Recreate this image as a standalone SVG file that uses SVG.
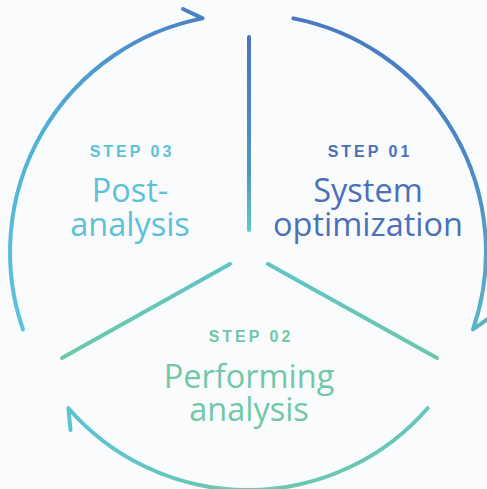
<svg xmlns="http://www.w3.org/2000/svg" width="487" height="489" viewBox="0 0 487 489">
  <defs>
    <linearGradient id="gA" gradientUnits="userSpaceOnUse" x1="293" y1="18" x2="473" y2="330">
      <stop offset="0" stop-color="#4a77c1"/>
      <stop offset="0.6" stop-color="#4a88c6"/>
      <stop offset="1" stop-color="#58b6c6"/>
    </linearGradient>
    <linearGradient id="gB" gradientUnits="userSpaceOnUse" x1="428" y1="408" x2="68" y2="408">
      <stop offset="0" stop-color="#68c6b8"/>
      <stop offset="0.5" stop-color="#6dc8b0"/>
      <stop offset="1" stop-color="#5cc2d2"/>
    </linearGradient>
    <linearGradient id="gC" gradientUnits="userSpaceOnUse" x1="23" y1="330" x2="203" y2="18">
      <stop offset="0" stop-color="#5cc4d8"/>
      <stop offset="0.5" stop-color="#52b0d6"/>
      <stop offset="1" stop-color="#4a80c6"/>
    </linearGradient>
    <linearGradient id="gV" gradientUnits="userSpaceOnUse" x1="249" y1="37" x2="249" y2="230">
      <stop offset="0" stop-color="#4a74bc"/>
      <stop offset="0.7" stop-color="#4f96c4"/>
      <stop offset="1" stop-color="#5cc8cc"/>
    </linearGradient>
    <linearGradient id="gL" gradientUnits="userSpaceOnUse" x1="230" y1="264" x2="62" y2="358">
      <stop offset="0" stop-color="#60c4c6"/>
      <stop offset="1" stop-color="#6cc8a8"/>
    </linearGradient>
    <linearGradient id="gR" gradientUnits="userSpaceOnUse" x1="268" y1="264" x2="437" y2="358">
      <stop offset="0" stop-color="#60c4c6"/>
      <stop offset="1" stop-color="#6cc8aa"/>
    </linearGradient>
  </defs>
  <style>
    .ln { fill: none; stroke-width: 4; stroke-linecap: round; stroke-linejoin: round; }
    .step { font-family: "Liberation Sans", Arial, sans-serif; font-weight: bold; font-size: 16px; letter-spacing: 3px; text-anchor: middle; }
    .title { font-family: "Open Sans", "Noto Sans", sans-serif; font-size: 32.5px; text-anchor: middle; }
    .c1 { fill: #4a71b8; }
    .c2 { fill: #72c7a7; }
    .c3 { fill: #5cc1d7; }
  </style>
  <rect width="487" height="489" fill="#f9fbfd"/>
  <g id="connectors">
    <path class="ln" stroke="url(#gA)" d="M293.4,18.4 A238,238 0 0 1 473,329.5 L490.8,316.7"/>
    <path class="ln" stroke="url(#gB)" d="M427.6,408.2 A238,238 0 0 1 68.4,408.2 L70.5,430"/>
    <path class="ln" stroke="url(#gC)" d="M23,329.5 A238,238 0 0 1 202.6,18.4 L183,9"/>
    <line class="ln" stroke="url(#gV)" x1="249" y1="37" x2="249" y2="230"/>
    <line class="ln" stroke="url(#gL)" x1="230" y1="264" x2="62" y2="358"/>
    <line class="ln" stroke="url(#gR)" x1="268" y1="264" x2="437" y2="358"/>
  </g>
  <g id="step01">
    <text class="step c1" x="370" y="157">STEP 01</text>
    <text class="title c1" x="368" y="202">System<tspan x="368" dy="34">optimization</tspan></text>
  </g>
  <g id="step02">
    <text class="step c2" x="251" y="342">STEP 02</text>
    <text class="title c2" x="249" y="388">Performing<tspan x="249" dy="33">analysis</tspan></text>
  </g>
  <g id="step03">
    <text class="step c3" x="132" y="157">STEP 03</text>
    <text class="title c3" x="130" y="202">Post-<tspan x="130" dy="34">analysis</tspan></text>
  </g>
</svg>
